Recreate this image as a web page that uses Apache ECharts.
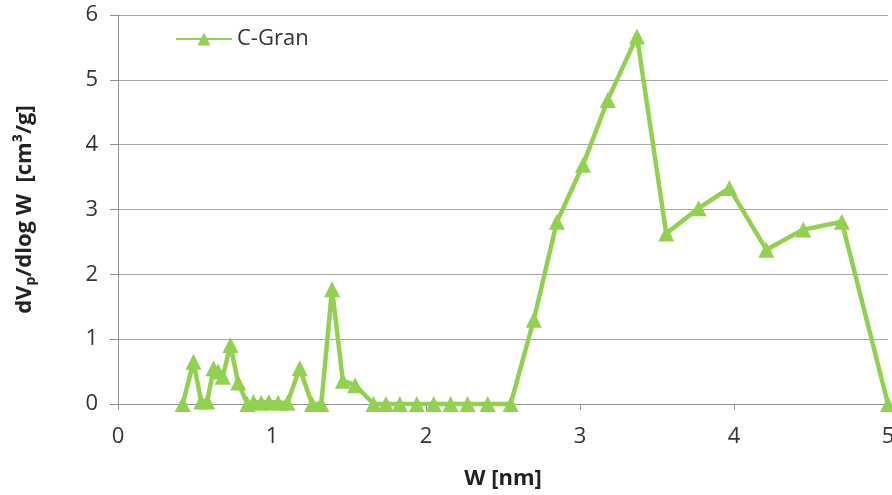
<!DOCTYPE html>
<html>
<head>
<meta charset="utf-8">
<script src="https://cdn.jsdelivr.net/npm/echarts@6/dist/echarts.min.js"></script>
<style>
  html, body { margin: 0; padding: 0; background: #fff; }
  #chart { width: 892px; height: 495px; }
</style>
</head>
<body>
<div id="chart"></div>
<script>
// Pore width W [nm]
const poreWidth = [
  0.42, 0.49, 0.54, 0.58, 0.62, 0.65, 0.68, 0.73, 0.78, 0.84,
  0.88, 0.93, 0.98, 1.04, 1.10, 1.18, 1.26, 1.32, 1.39, 1.46,
  1.54, 1.66, 1.74, 1.83, 1.94, 2.05, 2.16, 2.27, 2.40, 2.55,
  2.70, 2.85, 3.02, 3.18, 3.37, 3.56, 3.77, 3.97, 4.21, 4.45,
  4.70, 5.00
];
// Differential pore volume dVp/dlog W [cm3/g]
const dvDlogW = [
  0.00, 0.65, 0.04, 0.04, 0.55, 0.50, 0.42, 0.91, 0.33, 0.00,
  0.03, 0.02, 0.03, 0.02, 0.02, 0.55, 0.00, 0.00, 1.77, 0.36,
  0.29, 0.00, 0.00, 0.00, 0.00, 0.00, 0.00, 0.00, 0.00, 0.00,
  1.30, 2.81, 3.69, 4.69, 5.67, 2.63, 3.02, 3.33, 2.38, 2.69,
  2.81, 0.00
];
const seriesName = 'C-Gran';
const xTicks = [0, 1, 2, 3, 4, 5];
const yTicks = [0, 1, 2, 3, 4, 5, 6];

const green = '#92D050';
const font = '"Open Sans", "Liberation Sans", sans-serif';

const points = poreWidth.map((w, i) => [w, dvDlogW[i]]);

const chart = echarts.init(document.getElementById('chart'), null, { renderer: 'canvas' });
chart.setOption({
  animation: false,
  backgroundColor: '#ffffff',
  grid: { left: 118, right: 4, top: 15, bottom: 91, containLabel: false, outerBoundsMode: 'none' },
  legend: {
    left: 170, top: 23,
    itemWidth: 56, itemHeight: 16, itemGap: 6,
    textStyle: { fontFamily: font, fontSize: 22, color: '#333' },
    data: [seriesName]
  },
  xAxis: {
    type: 'value',
    min: xTicks[0], max: xTicks[xTicks.length - 1], interval: 1,
    name: 'W [nm]',
    nameLocation: 'middle', nameGap: 64,
    nameTextStyle: { fontFamily: font, fontSize: 22, fontWeight: 'bold', color: '#222' },
    axisLine: { show: true, lineStyle: { color: '#909090', width: 1 } },
    axisTick: { show: true, inside: false, length: 6, lineStyle: { color: '#909090' } },
    axisLabel: { fontFamily: font, fontSize: 22, color: '#333', margin: 22 },
    splitLine: { show: false }
  },
  yAxis: {
    type: 'value',
    min: yTicks[0], max: yTicks[yTicks.length - 1], interval: 1,
    name: '{t|dV}{s|p}{t|/dlog W  [cm³/g]}',
    nameLocation: 'middle', nameGap: 80, nameRotate: 90,
    nameTextStyle: {
      fontFamily: font, fontSize: 22, fontWeight: 'bold', color: '#222',
      rich: {
        t: { fontFamily: font, fontSize: 22, fontWeight: 'bold', color: '#222', lineHeight: 26 },
        s: { fontFamily: font, fontSize: 14, fontWeight: 'bold', color: '#222', lineHeight: 26, verticalAlign: 'bottom' }
      }
    },
    axisLine: { show: true, lineStyle: { color: '#909090', width: 1 } },
    axisTick: { show: true, inside: false, length: 8, lineStyle: { color: '#909090' } },
    axisLabel: { fontFamily: font, fontSize: 22, color: '#333', margin: 20 },
    splitLine: { show: true, lineStyle: { color: '#A6A6A6', width: 1 } }
  },
  series: [{
    name: seriesName,
    type: 'line',
    data: points,
    symbol: 'triangle',
    symbolSize: 16,
    showAllSymbol: true,
    clip: false,
    lineStyle: { color: green, width: 4.5 },
    itemStyle: { color: green, borderWidth: 0 }
  }]
});
</script>
</body>
</html>
